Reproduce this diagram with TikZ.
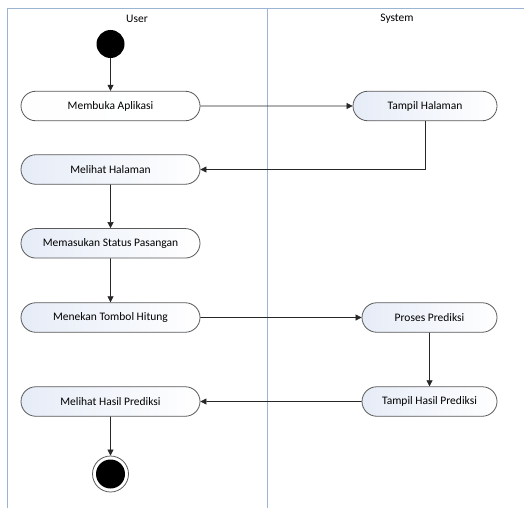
\documentclass[tikz,border=0pt]{standalone}
\usepackage{fontspec}
\setmainfont{Carlito}
\usetikzlibrary{arrows.meta,shapes.misc}
\definecolor{lane}{HTML}{9DB3D4}
\definecolor{act}{HTML}{5A5A5A}
\definecolor{actfill}{HTML}{E6ECF7}
\tikzset{
  x=1pt,y=-1pt,
  activity/.style={rounded rectangle, draw=act, line width=0.8pt,
    left color=actfill, right color=white, minimum height=29.5pt,
    font=\fontsize{11.5}{13}\selectfont, inner sep=0pt},
  plainactivity/.style={activity, left color=white!95!actfill, right color=white},
  lanebox/.style={draw=lane, line width=1pt},
  flow/.style={draw=black!85, line width=0.6pt, -{Triangle[length=6pt,width=6pt]}},
  lanetitle/.style={font=\fontsize{11.5}{13}\selectfont}
}
\begin{document}
\begin{tikzpicture}
\useasboundingbox (0,0) rectangle (524,508);
\fill[white] (0,0) rectangle (524,508);
% lanes
\draw[lanebox] (524,9) -- (7,9) -- (7,508);
\draw[lanebox] (267,9) -- (267,508);
\node[lanetitle] (tuser) at (137,19) {User};
\node[lanetitle] (tsys) at (397,19) {System};
% start
\node[circle, fill=black, minimum size=28pt, inner sep=0pt] (start) at (110.5,44) {};
% activities
\node[plainactivity, minimum width=179pt] (a1) at (110.5,106) {Membuka Aplikasi};
\node[activity, minimum width=144pt] (s1) at (425,106) {Tampil Halaman};
\node[activity, minimum width=179pt] (a2) at (110.5,169.5) {Melihat Halaman};
\node[activity, minimum width=179pt] (a3) at (110.5,243.3) {Memasukan Status Pasangan};
\node[activity, minimum width=179pt] (a4) at (110.5,317.5) {Menekan Tombol Hitung};
\node[activity, minimum width=135pt] (s2) at (429.5,317.5) {Proses Prediksi};
\node[activity, minimum width=135pt] (s3) at (429.5,401.5) {Tampil Hasil Prediksi};
\node[activity, minimum width=179pt] (a5) at (110.5,401.5) {Melihat Hasil Prediksi};
% end
\node[circle, draw=act, line width=0.8pt, minimum size=36pt, inner sep=0pt] (end) at (110.5,474) {};
\node[circle, fill=black, minimum size=29pt, inner sep=0pt] (endin) at (end.center) {};
% flows
\draw[flow] (start) -- (a1);
\draw[flow] (a1) -- (s1);
\draw[flow] (s1.south) |- (a2.east);
\draw[flow] (a2) -- (a3);
\draw[flow] (a3) -- (a4);
\draw[flow] (a4) -- (s2);
\draw[flow] (s2) -- (s3);
\draw[flow] (s3) -- (a5);
\draw[flow] (a5) -- (end);
\end{tikzpicture}
\end{document}
